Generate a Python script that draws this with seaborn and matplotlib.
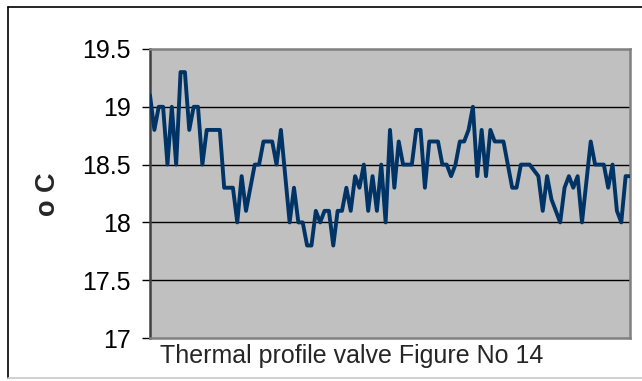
import numpy as np
import pandas as pd
import matplotlib
matplotlib.use("Agg")
import matplotlib.pyplot as plt
import seaborn as sns
from matplotlib.lines import Line2D

# ---- data ----
temps = [19.1, 18.8, 19.0, 19.0, 18.5, 19.0, 18.5, 19.3, 19.3, 18.8,
         19.0, 19.0, 18.5, 18.8, 18.8, 18.8, 18.8, 18.3, 18.3, 18.3,
         18.0, 18.4, 18.1, 18.3, 18.5, 18.5, 18.7, 18.7, 18.7, 18.5,
         18.8, 18.4, 18.0, 18.3, 18.0, 18.0, 17.8, 17.8, 18.1, 18.0,
         18.1, 18.1, 17.8, 18.1, 18.1, 18.3, 18.1, 18.4, 18.3, 18.5,
         18.1, 18.4, 18.1, 18.5, 18.0, 18.8, 18.3, 18.7, 18.5, 18.5,
         18.5, 18.8, 18.8, 18.3, 18.7, 18.7, 18.7, 18.5, 18.5, 18.4,
         18.5, 18.7, 18.7, 18.8, 19.0, 18.4, 18.8, 18.4, 18.8, 18.7,
         18.7, 18.7, 18.5, 18.3, 18.3, 18.5, 18.5, 18.5, 18.45, 18.4,
         18.1, 18.4, 18.2, 18.1, 18.0, 18.3, 18.4, 18.3, 18.4, 18.0,
         18.35, 18.7, 18.5, 18.5, 18.5, 18.3, 18.5, 18.1, 18.0, 18.4,
         18.4]
y_ticks = [17, 17.5, 18, 18.5, 19, 19.5]
y_tick_labels = ["17", "17.5", "18", "18.5", "19", "19.5"]
y_label = "o C"
x_label = "Thermal profile valve Figure No 14"

df = pd.DataFrame({"sample": np.arange(len(temps)), "temp": temps})

sns.set_style("white")
plt.rcParams["font.family"] = ["Liberation Sans", "DejaVu Sans"]

W, H = 642, 381
fig = plt.figure(figsize=(W / 100, H / 100), dpi=100)
fig.patch.set_facecolor("white")

# plot area in pixel coords: left 150, right 630, top 49, bottom 338
ax = fig.add_axes([150 / W, 1 - 338 / H, 480 / W, 289 / H])
ax.set_facecolor("#C0C0C0")

sns.lineplot(data=df, x="sample", y="temp", ax=ax, color="#003366",
             linewidth=2.8, zorder=3)

ax.set_xlim(0, len(temps) - 1)
ax.set_ylim(17, 19.5)
ax.set_yticks(y_ticks)
ax.set_yticklabels(y_tick_labels, fontsize=18, color="black")
ax.set_xticks([])
ax.set_xlabel("")
ax.set_ylabel("")
ax.tick_params(axis="y", direction="out", length=6, width=1, color="black",
               pad=8, left=True)

for v in y_ticks[1:-1]:
    ax.axhline(v, color="black", linewidth=1.0, zorder=1)

for side, sp in ax.spines.items():
    sp.set_visible(True)
    sp.set_linewidth(1.8)
    sp.set_color("#808080")
ax.spines["left"].set_color("#404040")

# labels
fig.text(48 / W, 1 - 194 / H, y_label, rotation=90, fontsize=19.5,
         fontweight="bold", ha="center", va="center")
fig.text(160 / W, 1 - 356 / H, x_label, fontsize=18, ha="left",
         va="center")

# outer frame of the chart object
fig.add_artist(Line2D([8 / W, 1.0], [1 - 7 / H, 1 - 7 / H], color="black",
                      linewidth=1.2, transform=fig.transFigure))
fig.add_artist(Line2D([8 / W, 8 / W], [1 - 7 / H, 1 - 378 / H], color="black",
                      linewidth=1.2, transform=fig.transFigure))
fig.add_artist(Line2D([8 / W, 1.0], [1 - 378 / H, 1 - 378 / H],
                      color="#C8C8C8", linewidth=1.2,
                      transform=fig.transFigure))

fig.savefig("out.png", dpi=100)
